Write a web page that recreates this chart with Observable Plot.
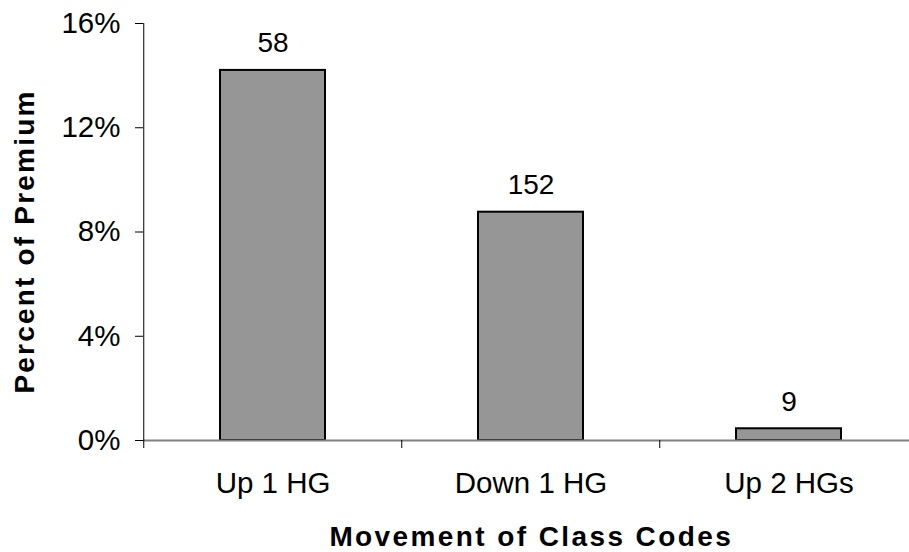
<!DOCTYPE html>
<html>
<head>
<meta charset="utf-8">
<script src="https://cdn.jsdelivr.net/npm/d3@7"></script>
<script src="https://cdn.jsdelivr.net/npm/@observablehq/plot@0.6"></script>
<style>
  html, body { margin: 0; padding: 0; background: #fff; overflow: hidden; }
</style>
</head>
<body>
<div id="chart"></div>
<script>
const categories = ["Up 1 HG", "Down 1 HG", "Up 2 HGs"];
const percentOfPremium = [14.2, 8.76, 0.45];
const counts = ["58", "152", "9"];
const yTicks = [0, 4, 8, 12, 16];
const yLabel = "Percent of Premium";
const xLabel = "Movement of Class Codes";

const data = categories.map((c, i) => ({cat: c, pct: percentOfPremium[i], n: counts[i]}));

const W = 909, H = 552;
const mL = 143, mR = -9.5, mT = 23, mB = 112;
const halfStep = (W - mL - mR) / categories.length / 2;
const font = "'Liberation Sans', Arial, sans-serif";

const chart = Plot.plot({
  width: W,
  height: H,
  marginLeft: mL,
  marginRight: mR,
  marginTop: mT,
  marginBottom: mB,
  style: {fontFamily: font, color: "black", background: "white", overflow: "visible"},
  x: {domain: categories, paddingInner: 0.594, paddingOuter: 0.297, label: null},
  y: {domain: [yTicks[0], yTicks[yTicks.length - 1]], label: null},
  marks: [
    Plot.barY(data, {x: "cat", y: "pct", fill: "#969696", stroke: "black", strokeWidth: 2}),
    Plot.ruleY([0], {stroke: "#808080", strokeWidth: 2}),
    Plot.ruleX([categories[0]], {y1: yTicks[0], y2: yTicks[yTicks.length - 1], dx: -halfStep, stroke: "black", strokeWidth: 1}),
    Plot.axisX({tickSize: 8, tickFormat: () => "", dx: -halfStep, stroke: "black"}),
    Plot.axisX({tickSize: 0, tickPadding: 32, fontSize: 29.5, fill: "black", label: null}),
    Plot.axisY({ticks: yTicks, tickSize: 8, tickPadding: 15, fontSize: 29.5, fill: "black", stroke: "black", tickFormat: d => d + "%", label: null}),
    Plot.text(data, {x: "cat", y: "pct", text: "n", dy: -27, lineAnchor: "middle", fontSize: 28, fill: "black"}),
    Plot.text([yLabel], {frameAnchor: "left", textAnchor: "middle", dx: -118, dy: 9.5, rotate: -90, lineAnchor: "middle", fontSize: 28, fontWeight: "bold", fill: "black"}),
    Plot.text([xLabel], {frameAnchor: "bottom", textAnchor: "middle", dy: 97, lineAnchor: "middle", fontSize: 28, fontWeight: "bold", fill: "black"})
  ]
});
d3.select(chart).selectAll("text").each(function() {
  const t = this.textContent;
  if (t === yLabel) d3.select(this).style("letter-spacing", "2.2px");
  if (t === xLabel) d3.select(this).style("letter-spacing", "2.4px");
});
document.getElementById("chart").appendChild(chart);
</script>
</body>
</html>
